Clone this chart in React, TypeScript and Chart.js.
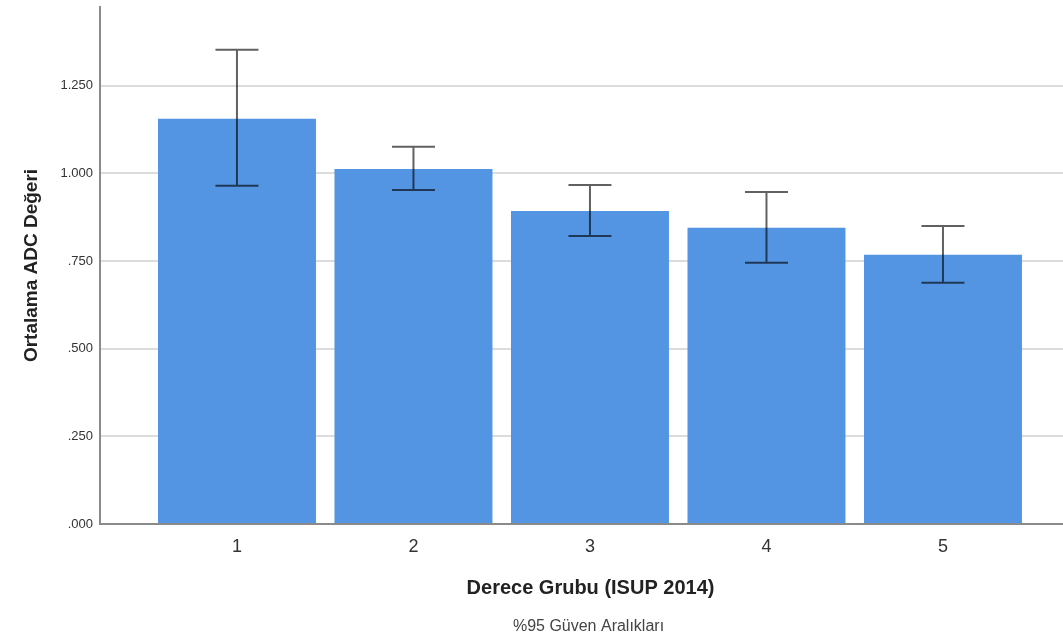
import React, { useEffect, useRef } from "react";
import { Chart, registerables } from "chart.js";

Chart.register(...registerables);

const categories = ["1", "2", "3", "4", "5"];
const means = [1.156, 1.013, 0.893, 0.845, 0.768];
const ciLower = [0.965, 0.953, 0.822, 0.745, 0.688];
const ciUpper = [1.353, 1.076, 0.967, 0.947, 0.85];
const yTicks = [0, 0.25, 0.5, 0.75, 1.0, 1.25];
const xTitle = "Derece Grubu (ISUP 2014)";
const footNote = "%95 Güven Aralıkları";

const FONT = "Arial, 'Liberation Sans', Helvetica, sans-serif";

const errorBarPlugin = {
  id: "errorBars",
  afterDatasetsDraw(chart: any) {
    const { ctx, scales } = chart;
    const xs = scales.x;
    const ys = scales.y;
    ctx.save();
    ctx.strokeStyle = "rgba(0,0,0,0.62)";
    ctx.lineWidth = 2;
    const cap = 21.5;
    categories.forEach((_, i) => {
      const x = xs.getPixelForValue(i + 1);
      const yl = ys.getPixelForValue(ciLower[i]);
      const yh = ys.getPixelForValue(ciUpper[i]);
      ctx.beginPath();
      ctx.moveTo(x, yh);
      ctx.lineTo(x, yl);
      ctx.moveTo(x - cap, yh);
      ctx.lineTo(x + cap, yh);
      ctx.moveTo(x - cap, yl);
      ctx.lineTo(x + cap, yl);
      ctx.stroke();
    });
    ctx.restore();
  },
};

const bottomTextPlugin = {
  id: "bottomText",
  afterDraw(chart: any) {
    const { ctx, chartArea } = chart;
    const cx = (chartArea.left + chartArea.right) / 2 + 8;
    ctx.save();
    ctx.textAlign = "center";
    ctx.textBaseline = "middle";
    ctx.fillStyle = "#222";
    ctx.font = `bold 20px ${FONT}`;
    ctx.fillText(xTitle, cx + 1, chartArea.bottom + 64);
    ctx.fillStyle = "#444";
    ctx.font = `16px ${FONT}`;
    ctx.fillText(footNote, cx - 1, chartArea.bottom + 103);
    ctx.restore();
  },
};

export default function App() {
  const ref = useRef<HTMLCanvasElement>(null);

  useEffect(() => {
    if (!ref.current) return;
    const chart = new Chart(ref.current, {
      type: "bar",
      data: {
        datasets: [
          {
            data: means.map((v, i) => ({ x: i + 1, y: v })),
            backgroundColor: "#5394e3",
            borderWidth: 0,
            barPercentage: 0.895,
            categoryPercentage: 1,
          },
        ],
      },
      options: {
        animation: false,
        responsive: false,
        maintainAspectRatio: false,
        layout: { padding: { top: 7, left: 0, right: 0, bottom: 0 } },
        plugins: {
          legend: { display: false },
          tooltip: { enabled: false },
        },
        scales: {
          x: {
            type: "linear",
            offset: false,
            min: 0.224,
            max: 5.68,
            afterFit: (s: any) => {
              s.height = 116;
              s.paddingLeft = 0;
              s.paddingRight = 0;
            },
            ticks: {
              stepSize: 1,
              includeBounds: false,
              autoSkip: false,
              maxRotation: 0,
              padding: 12,
              color: "#333",
              font: { family: FONT, size: 18 },
              callback: (v: any) => {
                const idx = Math.round(Number(v)) - 1;
                return Number.isInteger(Number(v)) && categories[idx] !== undefined ? categories[idx] : "";
              },
            },
            grid: { display: false, drawTicks: false, offset: false },
            border: { display: true, color: "#8a8a8a", width: 2 },
          },
          y: {
            type: "linear",
            min: 0,
            max: 1.475,
            afterFit: (s: any) => {
              s.width = 100;
              s.paddingTop = 0;
              s.paddingBottom = 0;
            },
            afterBuildTicks: (s: any) => {
              s.ticks = yTicks.map((v) => ({ value: v }));
            },
            ticks: {
              padding: 7,
              color: "#333",
              font: { family: FONT, size: 13 },
              callback: (v: any) => Number(v).toFixed(3).replace(/^0/, ""),
            },
            grid: { color: "#dcdcdc", lineWidth: 2, drawTicks: false },
            border: { display: true, color: "#8a8a8a", width: 2 },
            title: {
              display: true,
              text: "Ortalama ADC Değeri",
              color: "#222",
              font: { family: FONT, size: 19, weight: "bold" },
              padding: { top: 20.6, bottom: 0 },
            },
          },
        },
      } as any,
      plugins: [errorBarPlugin, bottomTextPlugin],
    });
    return () => chart.destroy();
  }, []);

  return (
    <div style={{ position: "fixed", left: 0, top: 0, width: 1063, height: 640, background: "#fff" }}>
      <canvas ref={ref} width={1063} height={640} style={{ width: 1063, height: 640 }} />
    </div>
  );
}
